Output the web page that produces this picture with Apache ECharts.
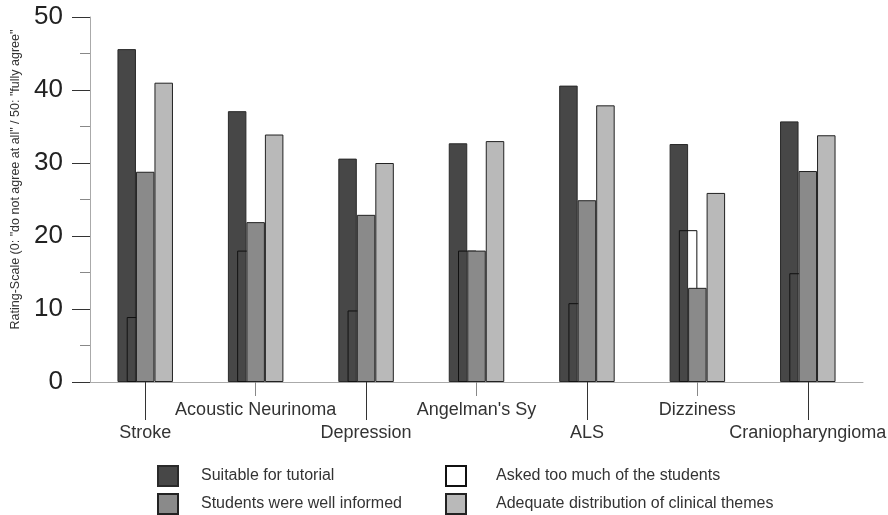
<!DOCTYPE html>
<html>
<head>
<meta charset="utf-8">
<title>Tutorial rating</title>
<script src="https://cdn.jsdelivr.net/npm/echarts@6/dist/echarts.min.js"></script>
<style>
  html, body { margin: 0; padding: 0; background: #fff; }
  #main { width: 888px; height: 515px; }
</style>
</head>
<body>
<div id="main"></div>
<script>
// categories + values
const categories = ["Stroke", "Acoustic Neurinoma", "Depression", "Angelman's Sy", "ALS", "Dizziness", "Craniopharyngioma"];
const suitable = [45.6, 37.1, 30.6, 32.7, 40.6, 32.6, 35.7];
const askedTooMuch = [8.9, 18.0, 9.8, 18.0, 10.8, 20.8, 14.9];
const wellInformed = [28.8, 21.9, 22.9, 18.0, 24.9, 12.9, 28.9];
const adequate = [41.0, 33.9, 30.0, 33.0, 37.9, 25.9, 33.8];
const yTicks = [0, 10, 20, 30, 40, 50];

const names = [
  "Suitable for tutorial",
  "Students were well informed",
  "Asked too much of the students",
  "Adequate distribution of clinical themes"
];
// spacer keeps the open bar half a bar to the left of centre
const spacer = categories.map(() => null);

const chart = echarts.init(document.getElementById("main"));
const font = "Liberation Sans, Arial, sans-serif";
const barW = 18.5;

const option = {
  animation: false,
  textStyle: { fontFamily: font },
  grid: { left: 90, right: 25, top: 17, bottom: 133, outerBoundsMode: "none", containLabel: false },
  legend: [
    {
      data: [names[0], names[1]],
      orient: "vertical",
      left: 157, top: 465, padding: 0,
      icon: "rect",
      itemWidth: 20, itemHeight: 20, itemGap: 6,
      textStyle: { fontSize: 16, color: "#333", padding: [0, 0, 0, 18] },
      selectedMode: false
    },
    {
      data: [names[2], names[3]],
      orient: "vertical",
      left: 445, top: 465, padding: 0,
      icon: "rect",
      itemWidth: 20, itemHeight: 20, itemGap: 6,
      textStyle: { fontSize: 16, color: "#333", padding: [0, 0, 0, 25] },
      selectedMode: false
    }
  ],
  xAxis: [
    {
      type: "category",
      data: categories,
      axisLine: { lineStyle: { color: "#aaa", width: 1 } },
      // long leader lines for the lower labels
      axisTick: {
        show: true,
        alignWithLabel: true, length: 38,
        interval: (i) => i % 2 === 0,
        lineStyle: { color: "#333" }
      },
      axisLabel: {
        interval: (i) => i % 2 === 0,
        margin: 42, fontSize: 18, color: "#333"
      }
    },
    {
      type: "category",
      data: categories,
      position: "bottom",
      axisLine: { show: false },
      axisTick: {
        show: true,
        alignWithLabel: true, length: 14,
        interval: (i) => i % 2 === 1,
        lineStyle: { color: "#888" }
      },
      axisLabel: {
        interval: (i) => i % 2 === 1,
        margin: 19, fontSize: 18, color: "#333"
      }
    }
  ],
  yAxis: {
    type: "value",
    min: yTicks[0],
    max: yTicks[yTicks.length - 1],
    interval: 10,
    name: 'Rating-Scale (0: "do not agree at all" / 50: "fully agree"',
    nameLocation: "middle",
    nameRotate: 90,
    nameGap: 68,
    nameTextStyle: { fontSize: 12.5, color: "#333", padding: [0, 0, 0, 40] },
    axisLine: { show: true, lineStyle: { color: "#aaa" } },
    axisTick: { show: true, length: 18, lineStyle: { color: "#333" } },
    minorTick: { show: true, splitNumber: 2, length: 10, lineStyle: { color: "#888" } },
    splitLine: { show: false },
    axisLabel: { fontSize: 26, color: "#222", margin: 27 }
  },
  series: [
    {
      name: names[0], type: "bar", xAxisIndex: 0,
      data: suitable, barWidth: barW, barGap: 0,
      itemStyle: { color: "#474747", borderColor: "#2a2a2a", borderWidth: 1 }
    },
    {
      name: names[2], type: "bar", xAxisIndex: 1,
      data: askedTooMuch, barWidth: barW, barGap: 0,
      itemStyle: { color: "rgba(255,255,255,0)", borderColor: "#111", borderWidth: 1 }
    },
    {
      name: "spacer", type: "bar", xAxisIndex: 1,
      data: spacer, barWidth: barW, barGap: 0, silent: true
    },
    {
      name: names[1], type: "bar", xAxisIndex: 0,
      data: wellInformed, barWidth: barW, barGap: 0,
      itemStyle: { color: "#8a8a8a", borderColor: "#222", borderWidth: 1 }
    },
    {
      name: names[3], type: "bar", xAxisIndex: 0,
      data: adequate, barWidth: barW, barGap: 0,
      itemStyle: { color: "#b9b9b9", borderColor: "#222", borderWidth: 1 }
    }
  ]
};

chart.setOption(option);
</script>
</body>
</html>
